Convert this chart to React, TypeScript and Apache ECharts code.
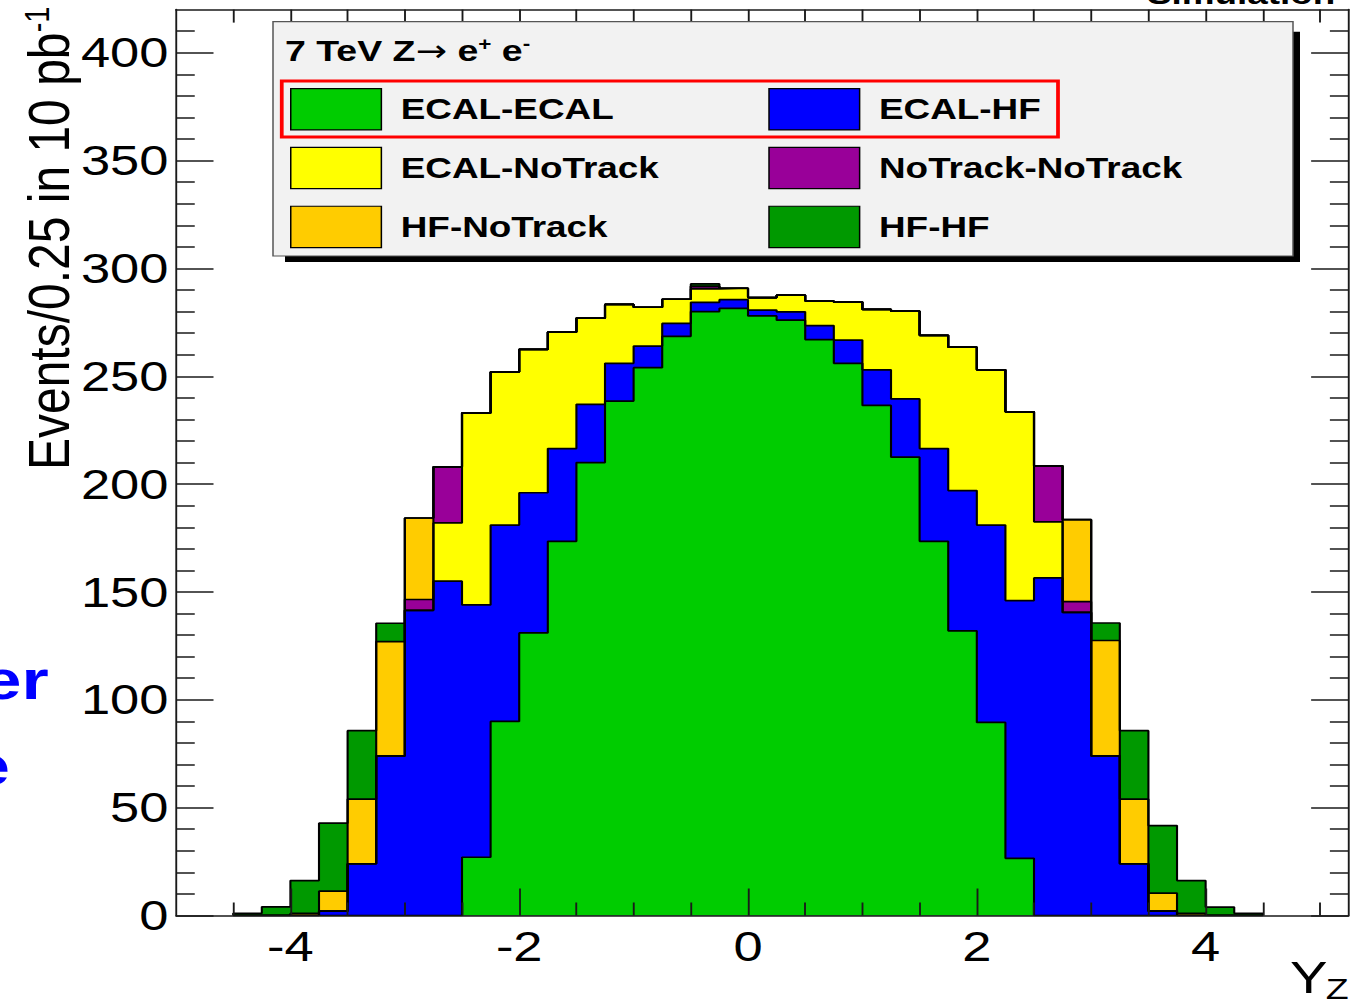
import React, { useEffect, useRef } from 'react';
import * as echarts from 'echarts';

// ---------- data ----------
const binLeftEdges = [
  -4.5, -4.25, -4, -3.75, -3.5, -3.25, -3, -2.75, -2.5, -2.25, -2, -1.75,
  -1.5, -1.25, -1, -0.75, -0.5, -0.25, 0, 0.25, 0.5, 0.75, 1, 1.25,
  1.5, 1.75, 2, 2.25, 2.5, 2.75, 3, 3.25, 3.5, 3.75, 4, 4.25,
];
const binWidth = 0.25;

const ecalEcal = [
  0, 0, 0, 0, 0, 0, 0, 0, 27, 90, 131, 173.5,
  210, 238.5, 254, 268.5, 280, 281.5, 278, 276, 267, 256, 236.5, 212.5,
  173.5, 132, 89.5, 26.5, 0, 0, 0, 0, 0, 0, 0, 0,
];
const ecalHf = [
  0, 0, 0, 2, 24, 74, 141.5, 155, 117, 91, 65, 43,
  27, 17.5, 10, 6, 4.3, 4, 2.7, 3.9, 6.5, 10.8, 16.5, 27,
  43, 65, 91.5, 119.5, 156.5, 140.5, 74, 24, 2, 0, 0, 0,
];
const ecalNoTrack = [
  0, 0, 0, 0, 0, 0, 0, 27, 89, 71, 66.5, 54,
  40, 27.3, 18, 11.2, 6.2, 5.3, 5.8, 7.7, 11.4, 17.6, 28, 40.7,
  52.5, 66.5, 72, 87.5, 26, 0, 0, 0, 0, 0, 0, 0,
];
const noTrackNoTrack = [
  0, 0, 0, 0, 0, 0, 5, 26, 0, 0, 0, 0,
  0, 0, 0, 0, 1.2, 0, 0, 0, 0, 0, 0, 0,
  0, 0, 0, 0, 26, 5, 0, 0, 0, 0, 0, 0,
];
const hfNoTrack = [
  0, 0, 1, 9.3, 30, 53, 37.8, 0, 0, 0, 0, 0,
  0, 0, 0, 0, 0, 0, 0, 0, 0, 0, 0, 0,
  0, 0, 0, 0, 0, 38, 53.5, 30, 8.4, 1, 0, 0,
];
const hfHf = [
  1, 4, 15.2, 31.5, 31.7, 8.5, 0, 0, 0, 0, 0, 0,
  0, 0, 0, 0, 1.1, 0, 0, 0, 0, 0, 0, 0,
  0, 0, 0, 0, 0, 0, 8.1, 31.7, 31.3, 15.2, 3.9, 1,
];

const layerNames = ['ECAL-ECAL', 'ECAL-HF', 'ECAL-NoTrack', 'NoTrack-NoTrack', 'HF-NoTrack', 'HF-HF'];
const layerValues = [ecalEcal, ecalHf, ecalNoTrack, noTrackNoTrack, hfNoTrack, hfHf];

// ticks
const xMajorTicks = [-4, -2, 0, 2, 4];
const xMinorTicks = [-4.5, -3.5, -3, -2.5, -1.5, -1, -0.5, 0.5, 1, 1.5, 2.5, 3, 3.5, 4.5, 5];
const yMajorTicks = [0, 50, 100, 150, 200, 250, 300, 350, 400];
const yMinorTicks = [
  10, 20, 30, 40, 60, 70, 80, 90, 110, 120, 130, 140, 160, 170, 180, 190,
  210, 220, 230, 240, 260, 270, 280, 290, 310, 320, 330, 340, 360, 370, 380, 390, 410,
];

// ---------- styles ----------
const layerColors = ['#00cc00', '#0000ff', '#ffff00', '#990099', '#ffcc00', '#009900'];
const FONT = '"Liberation Sans", Arial, Helvetica, sans-serif';
const STRETCH = 1.25;
const W = 1357 / STRETCH;
const H = 1004;
const AXIS_COLOR = '#1a1a1a';

function buildOption() {
  // cumulative sums (stack) of the layers
  const cumulative: number[][] = [];
  layerValues.forEach((vals, k) => {
    cumulative.push(vals.map((v, i) => v + (k > 0 ? cumulative[k - 1][i] : 0)));
  });

  const series: any[] = [];
  for (let k = layerValues.length - 1; k >= 0; k--) {
    const pts: number[][] = [[binLeftEdges[0], 0]];
    binLeftEdges.forEach((x, i) => pts.push([x, cumulative[k][i]]));
    pts.push([binLeftEdges[binLeftEdges.length - 1] + binWidth, 0]);
    series.push({
      type: 'line',
      name: layerNames[k],
      xAxisIndex: 0,
      yAxisIndex: 0,
      data: pts,
      step: 'end',
      symbol: 'none',
      showSymbol: false,
      silent: true,
      z: 2,
      lineStyle: { color: '#000', width: 1.7 },
      areaStyle: { color: layerColors[k], opacity: 1 },
    });
  }

  const xBase = {
    type: 'value',
    min: -5,
    max: 5.25,
    splitLine: { show: false },
    z: 10,
  };
  const yBase = {
    type: 'value',
    min: 0,
    max: 420,
    splitLine: { show: false },
    z: 10,
  };
  const lineOn = { show: true, onZero: false, lineStyle: { color: AXIS_COLOR, width: 1.5 } };
  const lineOff = { show: false, onZero: false };
  const tick = (vals: number[], len: number) => ({
    show: true,
    inside: true,
    length: len,
    customValues: vals,
    lineStyle: { color: AXIS_COLOR, width: 1.5 },
  });
  const labelStyle = {
    color: '#000',
    fontSize: 42,
    lineHeight: 42,
    fontFamily: FONT,
  };

  const xAxis = [
    {
      ...xBase,
      position: 'bottom',
      axisLine: lineOn,
      axisTick: tick(xMajorTicks, 27),
      axisLabel: { show: true, customValues: xMajorTicks, margin: 10, ...labelStyle },
    },
    { ...xBase, position: 'bottom', axisLine: lineOff, axisTick: tick(xMinorTicks, 13), axisLabel: { show: false } },
    { ...xBase, position: 'top', axisLine: lineOn, axisTick: tick(xMajorTicks, 27), axisLabel: { show: false } },
    { ...xBase, position: 'top', axisLine: lineOff, axisTick: tick(xMinorTicks, 13), axisLabel: { show: false } },
  ];
  const yAxis = [
    {
      ...yBase,
      position: 'left',
      axisLine: lineOn,
      axisTick: tick(yMajorTicks, 30),
      axisLabel: { show: true, customValues: yMajorTicks, margin: 6, ...labelStyle },
    },
    { ...yBase, position: 'left', axisLine: lineOff, axisTick: tick(yMinorTicks, 15), axisLabel: { show: false } },
    { ...yBase, position: 'right', axisLine: lineOn, axisTick: tick(yMajorTicks, 30), axisLabel: { show: false } },
    { ...yBase, position: 'right', axisLine: lineOff, axisTick: tick(yMinorTicks, 15), axisLabel: { show: false } },
  ];

  // legend (drawn as graphic, like ROOT TLegend)
  const legX0 = 218.4, legX1 = 1034.4, legY0 = 21.7, legY1 = 256;
  const swCols = [232.6, 615.2];
  const swW = 72.5;
  const rowCenters = [109, 167.7, 226.6];
  const swH = 41.3;
  const txtCols = [320.6, 703.2];
  const legendOrder = [0, 1, 2, 3, 4, 5]; // row-major: (ECAL-ECAL, ECAL-HF), ...

  const graphics: any[] = [
    // shadow
    { type: 'rect', z: 100, shape: { x: 228, y: legY1, width: legX1 + 5.6 - 228, height: 6 }, style: { fill: '#000' } },
    { type: 'rect', z: 100, shape: { x: legX1, y: 31.7, width: 5.6, height: legY1 + 6 - 31.7 }, style: { fill: '#000' } },
    // box
    {
      type: 'rect', z: 101,
      shape: { x: legX0, y: legY0, width: legX1 - legX0, height: legY1 - legY0 },
      style: { fill: '#f2f2f2', stroke: '#555', lineWidth: 1.2 },
    },
    // header
    {
      type: 'text', z: 102, x: 228, y: 50,
      style: {
        text: '7 TeV Z{arr|\u2192} e{sup|+} e{sup|-}',
        fontSize: 30, fontWeight: 'bold', fontFamily: FONT, fill: '#000',
        align: 'left', verticalAlign: 'middle',
        rich: {
          arr: { fontSize: 30, fontWeight: 'normal', fontFamily: '"DejaVu Sans", sans-serif', fill: '#000', verticalAlign: 'middle' },
          sup: { fontSize: 18, fontWeight: 'bold', fontFamily: FONT, fill: '#000', verticalAlign: 'top' },
        },
      },
    },
  ];
  legendOrder.forEach((k, idx) => {
    const col = idx % 2;
    const row = Math.floor(idx / 2);
    graphics.push({
      type: 'rect', z: 102,
      shape: { x: swCols[col], y: rowCenters[row] - swH / 2 + 0.3, width: swW, height: swH },
      style: { fill: layerColors[k], stroke: '#000', lineWidth: 1.2 },
    });
    graphics.push({
      type: 'text', z: 102, x: txtCols[col], y: rowCenters[row],
      style: {
        text: layerNames[k], fontSize: 29.5, fontWeight: 'bold', fontFamily: FONT, fill: '#000',
        align: 'left', verticalAlign: 'middle',
      },
    });
  });
  // red highlight box around the first row
  graphics.push({
    type: 'rect', z: 103,
    shape: { x: 225.4, y: 81, width: 846.4 - 225.4, height: 56 },
    style: { fill: 'none', stroke: '#ff0000', lineWidth: 3 },
  });
  // y axis title
  graphics.push({
    type: 'text', z: 102, x: 39, y: 470, rotation: Math.PI / 2, scaleY: 0.96,
    style: {
      text: 'Events/0.25 in 10 pb{sup|-1}',
      fontSize: 48, fontFamily: FONT, fill: '#000', align: 'left', verticalAlign: 'middle',
      rich: { sup: { fontSize: 29, fontFamily: FONT, fill: '#000', verticalAlign: 'top' } },
    },
  });
  // x axis title: Y with subscript Z
  graphics.push({
    type: 'text', z: 102, x: 1032, y: 993 - 0.3465 * 45,
    style: { text: 'Y', fontSize: 45, fontFamily: FONT, fill: '#000', align: 'left', verticalAlign: 'middle' },
  });
  graphics.push({
    type: 'text', z: 102, x: 1060.5, y: 999 - 0.3465 * 30,
    style: { text: 'Z', fontSize: 30, lineHeight: 24, fontFamily: FONT, fill: '#000', align: 'left', verticalAlign: 'middle' },
  });
  // cut-off texts of the surrounding page
  graphics.push({
    type: 'text', z: 102, x: 917.6, y: 4 - 0.3465 * 29.5,
    style: { text: 'Simulation', fontSize: 29.5, fontWeight: 'bold', fontFamily: FONT, fill: '#000', align: 'left', verticalAlign: 'middle' },
  });
  graphics.push({
    type: 'text', z: 102, x: 39, y: 699 - 0.3465 * 56,
    style: { text: 'er', fontSize: 56, fontWeight: 'bold', fontFamily: FONT, fill: '#0000ff', align: 'right', verticalAlign: 'middle' },
  });
  graphics.push({
    type: 'text', z: 102, x: 8, y: 785 - 0.3465 * 56,
    style: { text: 'e', fontSize: 56, fontWeight: 'bold', fontFamily: FONT, fill: '#0000ff', align: 'right', verticalAlign: 'middle' },
  });

  return {
    animation: false,
    backgroundColor: '#ffffff',
    grid: {
      left: 140.8,
      right: W - 1078.9,
      top: 9.6,
      bottom: 88.5,
      containLabel: false,
      outerBoundsMode: 'none',
    },
    xAxis,
    yAxis,
    series,
    graphic: { elements: graphics },
  };
}

export default function App() {
  const ref = useRef<HTMLDivElement>(null);
  useEffect(() => {
    if (!ref.current) return;
    const chart = echarts.init(ref.current, null, { renderer: 'svg', width: W, height: H });
    chart.setOption(buildOption() as any);
    return () => chart.dispose();
  }, []);
  return (
    <div
      ref={ref}
      style={{
        position: 'absolute',
        left: 0,
        top: 0,
        width: W + 'px',
        height: H + 'px',
        transform: `scaleX(${STRETCH})`,
        transformOrigin: '0 0',
        background: '#fff',
      }}
    />
  );
}
